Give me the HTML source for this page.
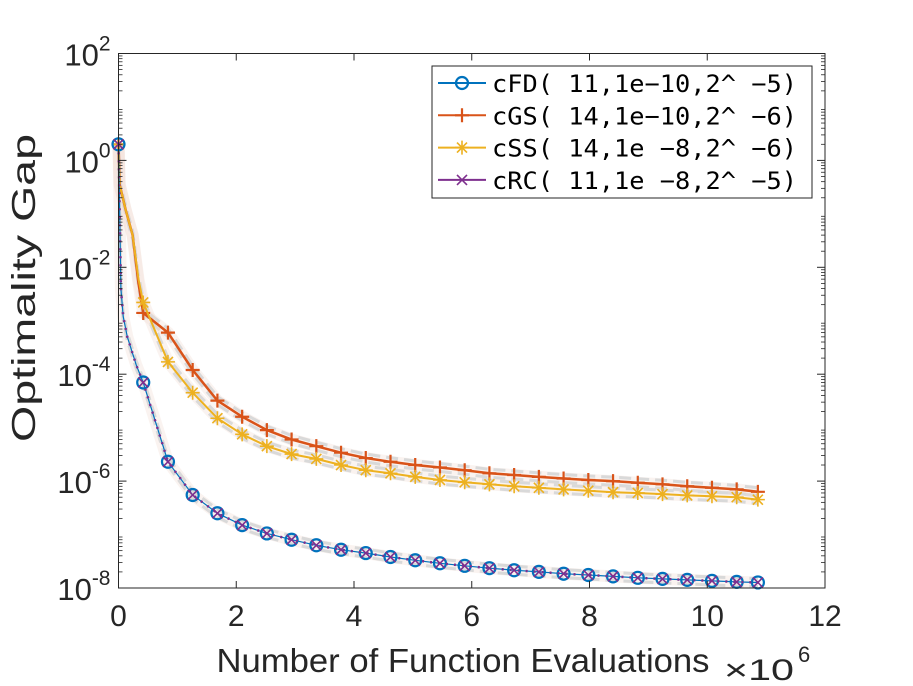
<!DOCTYPE html>
<html><head><meta charset="utf-8"><style>
html,body{margin:0;padding:0;background:#fff;}
svg{display:block;font-family:"Liberation Sans",Arial,sans-serif;}
</style></head><body>
<svg id="chart" width="913" height="686" viewBox="0 0 913 686">
<g id="bands"></g>
<g id="series"></g>
<g id="axes"></g>
<text x="35" y="288" font-size="33" fill="#262626" text-anchor="middle" textLength="308" lengthAdjust="spacingAndGlyphs" transform="rotate(-90 35 288)">Optimality Gap</text>
<text x="463" y="672" font-size="33" fill="#262626" text-anchor="middle" textLength="493" lengthAdjust="spacingAndGlyphs">Number of Function Evaluations</text>
<text x="724" y="680" font-size="30" fill="#262626" textLength="70" lengthAdjust="spacingAndGlyphs">×10</text>
<text x="798" y="662" font-size="22" fill="#262626">6</text>
<g id="legend">
<rect x="432" y="66" width="380" height="132" fill="#fff" stroke="#262626" stroke-width="1"/>
</g>
</svg>
<script>
const xTicks=[0,2,4,6,8,10,12];
const yDecades=[2,0,-2,-4,-6,-8];
const markX=[0,0.42,0.84,1.26,1.68,2.1,2.52,2.94,3.36,3.78,4.2,4.62,5.04,5.46,5.88,6.3,6.72,7.14,7.56,7.98,8.4,8.82,9.24,9.66,10.08,10.5,10.86];
const cfdHeadX=[0,0.02,0.04,0.08,0.15,0.3];
const cfdHeadY=[2,0.1,4e-3,1.2e-3,5e-4,1.5e-4];
const cfdY=[2,7e-5,2.3e-6,5.5e-7,2.5e-7,1.5e-7,1.05e-7,8e-8,6.3e-8,5.2e-8,4.5e-8,3.8e-8,3.3e-8,2.9e-8,2.6e-8,2.35e-8,2.15e-8,2e-8,1.85e-8,1.75e-8,1.65e-8,1.55e-8,1.48e-8,1.42e-8,1.36e-8,1.3e-8,1.27e-8];
const cgsHeadX=[0,0.02,0.12,0.24,0.34];
const cgsHeadY=[2,0.35,0.12,0.04,5e-3];
const cgsY=[2,1.4e-3,6e-4,1.2e-4,3.2e-5,1.6e-5,9e-6,6e-6,4.5e-6,3.4e-6,2.7e-6,2.3e-6,2e-6,1.8e-6,1.6e-6,1.4e-6,1.3e-6,1.2e-6,1.12e-6,1.05e-6,1e-6,0.93e-6,0.87e-6,0.8e-6,0.75e-6,0.7e-6,0.63e-6];
const cssHeadX=[0,0.02,0.12,0.24,0.34];
const cssHeadY=[2,0.35,0.12,0.04,6e-3];
const cssY=[2,2.2e-3,1.7e-4,4.5e-5,1.5e-5,7.5e-6,4.5e-6,3.2e-6,2.6e-6,2e-6,1.6e-6,1.4e-6,1.2e-6,1.05e-6,0.95e-6,0.87e-6,0.8e-6,0.75e-6,0.7e-6,0.66e-6,0.62e-6,0.6e-6,0.57e-6,0.54e-6,0.52e-6,0.5e-6,0.45e-6];
const crcY=cfdY;
const legendLabels=["cFD( 11,1e\u221210,2^ \u22125)","cGS( 14,1e\u221210,2^ \u22126)","cSS( 14,1e \u22128,2^ \u22126)","cRC( 11,1e \u22128,2^ \u22125)"];

const L=118.5,R=825,T=53.5,B=588;
const xs=v=>L+(v/12)*(R-L);
const ys=v=>T+(2-Math.log10(v))/10*(B-T);
const NS="http://www.w3.org/2000/svg";
function mk(tag,attrs,parent){const e=document.createElementNS(NS,tag);for(const k in attrs)e.setAttribute(k,attrs[k]);parent.appendChild(e);return e;}
const axes=document.getElementById('axes'),series=document.getElementById('series'),bands=document.getElementById('bands'),legend=document.getElementById('legend');

let fr=mk('rect',{x:L,y:T,width:R-L,height:B-T,fill:'none',stroke:'#262626','stroke-width':1},axes);


xTicks.forEach(t=>{
 const x=xs(t);
 let a=mk('line',{x1:x,x2:x,y1:B,y2:B-7,stroke:'#262626'},axes);
 
 
 let b=mk('line',{x1:x,x2:x,y1:T,y2:T+7,stroke:'#262626'},axes);
 
 
 let tx=mk('text',{x:x,y:B+38,'font-size':30,fill:'#262626','text-anchor':'middle'},axes);
 tx.textContent=t;
 
 
});
for(let d=-8;d<2;d++){for(let m=2;m<10;m++){const y=ys(m*Math.pow(10,d));
 let a=mk('line',{x1:L,x2:L+4,y1:y,y2:y,stroke:'#262626','stroke-width':0.8},axes);
 
 
 let b=mk('line',{x1:R,x2:R-4,y1:y,y2:y,stroke:'#262626','stroke-width':0.8},axes);
 
 }}
yDecades.forEach(d=>{
 const y=ys(Math.pow(10,d));
 let a=mk('line',{x1:L,x2:L+8,y1:y,y2:y,stroke:'#262626'},axes);
 
 
 let b=mk('line',{x1:R,x2:R-8,y1:y,y2:y,stroke:'#262626'},axes);
 
 
 let tx=mk('text',{x:L-8,y:y+12,'font-size':31,fill:'#262626','text-anchor':'end'},axes);
 tx.innerHTML='10<tspan dy="-15" font-size="21">'+(d<0?'-'+(-d):d)+'</tspan>';
 
 
});

function pts(hx,hy,y){const p=[];hx.forEach((x,i)=>p.push([xs(x),ys(hy[i])]));markX.forEach((x,i)=>{if(i>0)p.push([xs(x),ys(y[i])]);});return p;}
function pstr(p){return p.map(q=>q[0].toFixed(1)+','+q[1].toFixed(1)).join(' ');}
function band(p,name){
 let a=mk('polyline',{points:pstr(p),fill:'none',stroke:'#f0dcd4','stroke-opacity':0.35,'stroke-width':12},bands);
 
 
 let up=p.map(q=>[q[0],q[1]-4]),dn=p.map(q=>[q[0],q[1]+4]);
 [up,dn].forEach(pp=>{let l=mk('polyline',{points:pstr(pp),fill:'none',stroke:'#d9d9d9','stroke-width':3,'stroke-dasharray':'12 6'},bands);
 
 });
}
const cfd=pts(cfdHeadX,cfdHeadY,cfdY),cgs=pts(cgsHeadX,cgsHeadY,cgsY),css=pts(cssHeadX,cssHeadY,cssY),crc=pts(cfdHeadX,cfdHeadY,crcY);
band(cgs,'cgs');band(css,'css');band(cfd,'cfd');

function marker(g,type,x,y,c){
 if(type==='o'){mk('circle',{cx:x,cy:y,r:6,fill:'none',stroke:c,'stroke-width':2.2},g);}
 else if(type==='+'){mk('path',{d:`M${x-7},${y}H${x+7}M${x},${y-7}V${y+7}`,stroke:c,'stroke-width':2.2},g);}
 else if(type==='*'){mk('path',{d:`M${x-7},${y}H${x+7}M${x},${y-7}V${y+7}M${x-5},${y-5}L${x+5},${y+5}M${x-5},${y+5}L${x+5},${y-5}`,stroke:c,'stroke-width':1.6},g);}
 else {mk('path',{d:`M${x-5},${y-5}L${x+5},${y+5}M${x-5},${y+5}L${x+5},${y-5}`,stroke:c,'stroke-width':1.6},g);}
}
function drawSeries(p,name,c,type,dash,w,yvals){
 const g=mk('g',{},series);
 
 
 const attrs={points:pstr(p),fill:'none',stroke:c,'stroke-width':w};
 if(dash)attrs['stroke-dasharray']=dash;
 let l=mk('polyline',attrs,g);
 
 
 markX.forEach((x,i)=>marker(g,type,xs(x),ys(yvals[i]),c));
}
drawSeries(cgs,'cgs','#d95319','+',null,2.5,cgsY);
drawSeries(css,'css','#edb120','*',null,2,cssY);
drawSeries(cfd,'cfd','#0072bd','o',null,1.2,cfdY);
drawSeries(crc,'crc','#7e2f8e','x','2 6',2.5,crcY);

const legCol=['#0072bd','#d95319','#edb120','#7e2f8e'],legM=['o','+','*','x'];
legendLabels.forEach((s,i)=>{
 const y=83+i*32.3;
 const g=mk('g',{},legend);
 
 
 mk('line',{x1:438,x2:486,y1:y,y2:y,stroke:legCol[i],'stroke-width':2},g);
 marker(g,legM[i],462,y,legCol[i]);
 let t=mk('text',{x:492,y:y+9,'font-size':24,fill:'#000','font-family':'"DejaVu Sans Mono","Liberation Mono",monospace',textLength:305,lengthAdjust:'spacingAndGlyphs'},g);
 t.textContent=s;
 t.setAttribute('xml:space','preserve');
 t.style.whiteSpace='pre';
});
</script>
</body></html>
